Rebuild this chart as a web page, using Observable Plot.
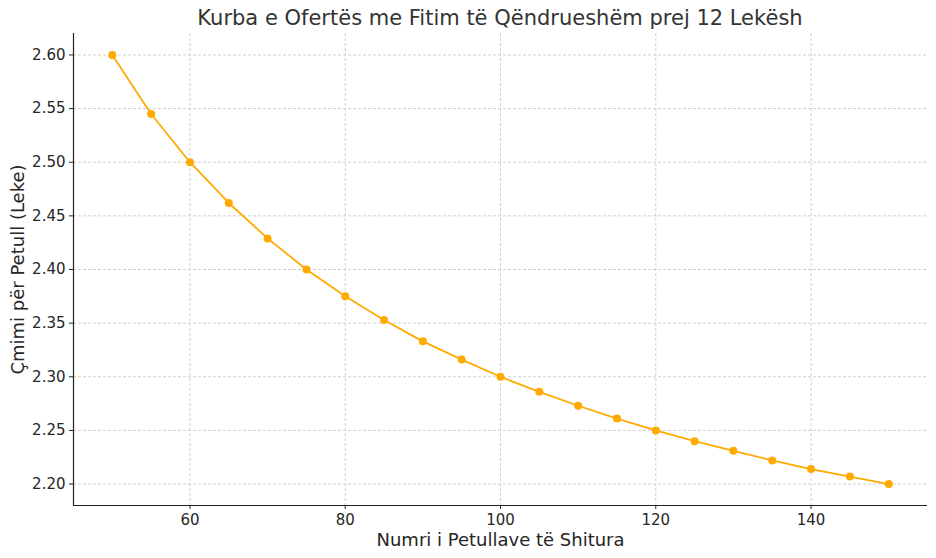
<!DOCTYPE html>
<html><head><meta charset="utf-8">
<script src="https://cdn.jsdelivr.net/npm/d3@7"></script>
<script src="https://cdn.jsdelivr.net/npm/@observablehq/plot@0.6"></script>
<style>
body{margin:0;background:#fff;font-family:"DejaVu Sans",sans-serif;}
#title{height:33px;line-height:36px;text-align:center;font-size:21px;color:#333;width:854px;padding-left:73px;padding-right:9px;white-space:nowrap;}
</style></head><body>
<div id="title">Kurba e Ofertës me Fitim të Qëndrueshëm prej 12 Lekësh</div>
<div id="chart"></div>
<script>
const quantities = [50,55,60,65,70,75,80,85,90,95,100,105,110,115,120,125,130,135,140,145,150];
const prices = [2.600,2.545,2.500,2.462,2.429,2.400,2.375,2.353,2.333,2.316,2.300,2.286,2.273,2.261,2.250,2.240,2.231,2.222,2.214,2.207,2.200];
const xTicks = [60,80,100,120,140];
const yTicks = [2.20,2.25,2.30,2.35,2.40,2.45,2.50,2.55,2.60];
const xDomain = [45,155];
const yDomain = [2.18,2.62];
const xLabel = "Numri i Petullave të Shitura";
const yLabel = "Çmimi për Petull (Leke)";
const color = "#ffaa00";

const data = quantities.map((q,i)=>({q, p: prices[i]}));
const chart = Plot.plot({
  width: 936, height: 525,
  marginLeft: 73, marginRight: 9, marginTop: 0, marginBottom: 53,
  style: {fontFamily: "DejaVu Sans, sans-serif", fontSize: "15px", color: "#262626", background: "#fff"},
  x: {domain: xDomain},
  y: {domain: yDomain},
  marks: [
    Plot.gridX(xTicks, {stroke: "#cfcfcf", strokeOpacity: 1, strokeDasharray: "3,2"}),
    Plot.gridY(yTicks, {stroke: "#cfcfcf", strokeOpacity: 1, strokeDasharray: "3,2"}),
    Plot.ruleX([xDomain[0]], {stroke: "#222", strokeWidth: 1.2}),
    Plot.ruleY([yDomain[0]], {stroke: "#222", strokeWidth: 1.2}),
    Plot.axisX(xTicks, {label: null, tickSize: 4, tickPadding: 5, fontSize: 15, fill: "#262626"}),
    Plot.axisY(yTicks, {label: null, tickSize: 4, tickPadding: 4, tickFormat: d3.format(".2f"), fontSize: 15, fill: "#262626"}),
    Plot.line(data, {x: "q", y: "p", stroke: color, strokeWidth: 1.8}),
    Plot.dot(data, {x: "q", y: "p", fill: color, r: 4}),
    Plot.text([xLabel], {frameAnchor: "bottom", textAnchor: "middle", lineAnchor: "middle", dy: 35, fontSize: 18, fill: "#262626"}),
    Plot.text([yLabel], {frameAnchor: "left", textAnchor: "middle", lineAnchor: "middle", rotate: -90, dx: -55, fontSize: 18, fill: "#262626"})
  ]
});
document.getElementById("chart").append(chart);
</script>
</body></html>
